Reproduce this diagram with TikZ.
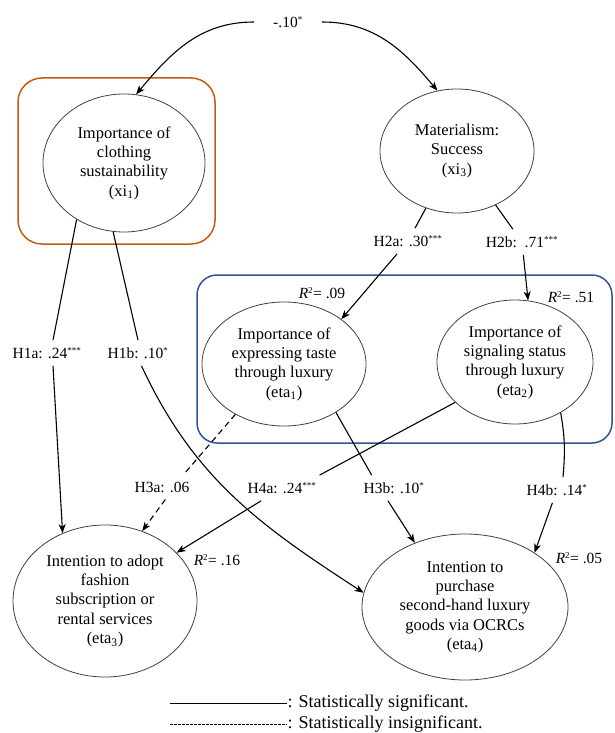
\documentclass[tikz,border=0pt]{standalone}
\usepackage{fontspec}
\setmainfont{Liberation Serif}
\usetikzlibrary{shapes.geometric,arrows.meta}
\definecolor{boxorange}{HTML}{C55A11}
\definecolor{boxblue}{HTML}{2F5597}
\newcommand{\sigmark}[1]{\textsuperscript{\fontsize{9}{9}\selectfont #1}}

\begin{document}
\begin{tikzpicture}[x=1pt,y=1pt,
    construct/.style={ellipse, draw=black!75, line width=0.8pt, inner sep=0pt,
      align=center, font=\fontsize{16.5}{19.3}\selectfont},
    coef/.style={inner xsep=3pt, inner ysep=7pt, font=\fontsize{15.5}{18}\selectfont},
    rsq/.style={inner sep=1pt, font=\fontsize{15.5}{18}\selectfont},
    legendtext/.style={anchor=west, inner xsep=0.5pt, font=\fontsize{18}{21}\selectfont},
    plain/.style={line width=1.1pt},
    effect/.style={line width=1.1pt, -{Stealth[length=9pt,width=7pt,inset=2.5pt]}}]
\useasboundingbox (0,0) rectangle (614,-733);

% highlight boxes
\draw[boxorange, line width=1.5pt, rounded corners=24pt] (18,-78) rectangle (215,-244);
\draw[boxblue, line width=1.5pt, rounded corners=20pt] (197,-275) rectangle (612,-443);

% constructs
\node[construct, minimum width=162pt, minimum height=138pt] (xi1) at (124,-163)
  {Importance of\\clothing\\sustainability\\(xi\textsubscript{1})};
\node[construct, minimum width=154pt, minimum height=124pt] (xi3) at (457,-151)
  {Materialism:\\Success\\(xi\textsubscript{3})};
\node[construct, minimum width=164pt, minimum height=124pt] (eta1) at (284,-364)
  {Importance of\\expressing taste\\through luxury\\(eta\textsubscript{1})};
\node[construct, minimum width=156pt, minimum height=124pt] (eta2) at (515,-362)
  {Importance of\\signaling status\\through luxury\\(eta\textsubscript{2})};
\node[construct, minimum width=184pt, minimum height=152pt] (eta3) at (105,-601)
  {Intention to adopt\\fashion\\subscription or\\rental services\\(eta\textsubscript{3})};
\node[construct, minimum width=206pt, minimum height=146pt] (eta4) at (465,-607)
  {Intention to\\purchase\\second-hand luxury\\goods via OCRCs\\(eta\textsubscript{4})};

% path coefficients
\node[coef, minimum width=68pt] (cov) at (288,-22) {-.10\sigmark{*}};
\node[coef] (h1a) at (47,-353) {H1a: .24\sigmark{***}};
\node[coef] (h1b) at (138,-353) {H1b: .10\sigmark{*}};
\node[coef] (h2a) at (408,-241) {H2a: .30\sigmark{***}};
\node[coef] (h2b) at (522,-242) {H2b:\ \ .71\sigmark{***}};
\node[coef] (h3a) at (162,-487) {H3a: .06};
\node[coef] (h4a) at (282,-488) {H4a: .24\sigmark{***}};
\node[coef] (h3b) at (394,-488) {H3b: .10\sigmark{*}};
\node[coef] (h4b) at (557,-490) {H4b: .14\sigmark{*}};

% explained variance
\node[rsq] (r2eta1) at (322,-293) {\textit{R}\sigmark{2}= .09};
\node[rsq] (r2eta2) at (571,-297) {\textit{R}\sigmark{2}= .51};
\node[rsq] (r2eta3) at (217,-560) {\textit{R}\sigmark{2}= .16};
\node[rsq] (r2eta4) at (579,-558) {\textit{R}\sigmark{2}= .05};

% correlation
\draw[effect] (cov.west) to[out=180, in=50] (xi1.80);
\draw[effect] (cov.east) to[out=0, in=130] (xi3.108);

% paths
\draw[plain] (xi1.230) -- (h1a.65);
\draw[effect] (h1a.-65) -- (eta3.122);
\draw[plain] (xi1.261) -- (h1b.north);
\draw[effect] (h1b.-75) to[out=-65, in=147] (eta4.172);
\draw[plain] (xi3) -- (h2a);
\draw[effect] (h2a) -- (eta1.38);
\draw[plain] (xi3) -- (h2b);
\draw[effect] (h2b) -- (eta2.78);
\draw[plain, dash pattern=on 6pt off 4pt] (eta1.-134) -- (h3a.30);
\draw[effect, dash pattern=on 6pt off 4pt] (h3a.-75) -- (eta3.62);
\draw[plain] (eta2.-146) -- (h4a.north east);
\draw[effect] (h4a) -- (eta3.34);
\draw[plain] (eta1.-43) -- (h3b.150);
\draw[effect] (h3b.-115) -- (eta4.128);
\draw[plain] (eta2.-48) to[out=-80, in=85] (h4b.65);
\draw[effect] (h4b) -- (eta4.38);

% legend
\coordinate (solidstart) at (170,-703);
\coordinate (dashstart) at (170,-724);
\node[legendtext] (sigtext) at (287,-703) {: Statistically significant.};
\node[legendtext] (insigtext) at (287,-724) {: Statistically insignificant.};
\draw[line width=0.9pt] (solidstart) -- (sigtext.west);
\draw[line width=0.7pt, dash pattern=on 2.5pt off 1.5pt] (dashstart) -- (insigtext.west);
\end{tikzpicture}
\end{document}
